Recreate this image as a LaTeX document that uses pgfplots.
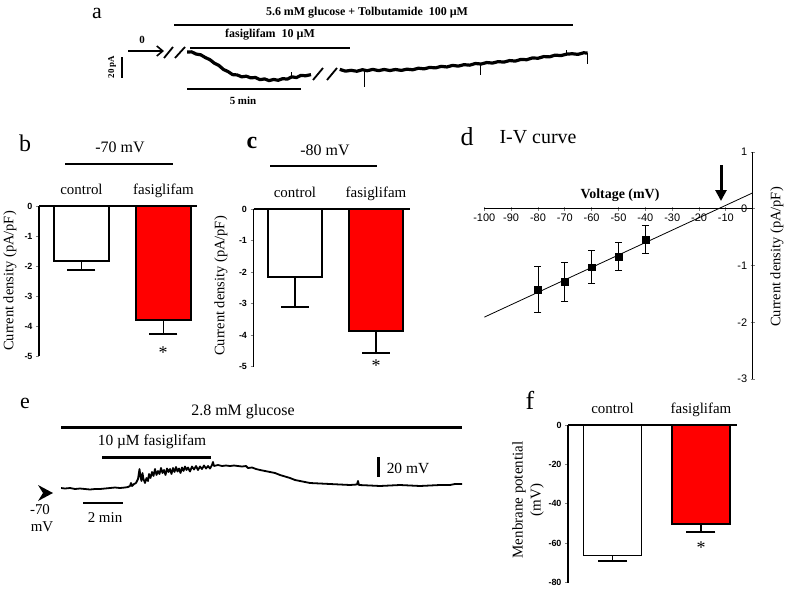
\documentclass[border=0pt]{standalone}
\usepackage{fontspec}
\setmainfont{Liberation Serif}
\setsansfont{Liberation Sans}
\usepackage{pgfplots}
\pgfplotsset{compat=1.18}
\usetikzlibrary{arrows.meta}
\newcommand{\fs}[1]{\fontsize{#1}{#1}\selectfont}

\pgfplotsset{
  barax/.style={
    scale only axis, enlargelimits=false,
    axis x line=top, axis y line=left,
    axis line style={-, line width=1.3bp},
    xtick={1,2}, xticklabels={control,fasiglifam},
    x tick label style={font=\fs{15}, anchor=base, yshift=9bp},
    xtick style={draw=none},
    y tick label style={font=\sffamily\bfseries\fs{9}},
    ytick style={line width=1bp},
    tick align=outside, major tick length=3bp,
    /pgf/number format/assume math mode=true,
  },
  ctrl/.style={ybar, bar shift=0pt, draw=black, line width=1.8bp, fill=white},
  fasi/.style={ybar, bar shift=0pt, draw=black, line width=1.8bp, fill=red},
  errs/.style={error bars/.cd, y dir=minus, y explicit,
    error bar style={line width=1.8bp, black},
    error mark options={rotate=90, mark size=#1, line width=2.2bp, black}},
  trace/.style={scale only axis, hide axis, enlargelimits=false},
}

\begin{document}
\begin{tikzpicture}
\useasboundingbox (0,0) rectangle (787bp,-589bp);

% ---------- a: current trace ----------
\begin{axis}[trace, at={(187bp,-46.8bp)}, anchor=north west,
  width=401bp, height=42bp, xmin=0, xmax=17.59, ymin=-36, ymax=4]
\addplot[black, line width=3.2bp, line join=round] coordinates {
 (0,-1) (0.2,-0.8) (0.4,-2.9) (0.6,-3.6) (0.8,-6.2) (1.0,-8.2) (1.2,-11.6)
 (1.4,-13.8) (1.6,-17.6) (1.8,-19.6) (2.0,-22.5) (2.2,-22.8) (2.4,-24.6)
 (2.6,-24) (2.8,-25.6) (3.0,-25.2) (3.2,-27.3) (3.4,-26.6) (3.6,-28.2)
 (3.8,-27.1) (4.0,-27.9) (4.2,-26.3) (4.4,-26.8) (4.6,-24.6) (4.8,-25.3)
 (5.0,-23.2) (5.2,-23.6) (5.44,-22.5)
};
\addplot[black, line width=3.2bp, line join=round] coordinates {
 (6.70,-17.5) (6.95,-19.2) (7.20,-18.4) (7.45,-19.3) (7.70,-17.8)
 (7.90,-18.8) (8.15,-17.5) (8.40,-18.7) (8.65,-17.6) (8.90,-18.6)
 (9.15,-17.6) (9.40,-18.5) (9.65,-17.3) (9.90,-17.9) (10.15,-16.4)
 (10.40,-17.0) (10.65,-15.6) (10.90,-16.1) (11.15,-14.6) (11.40,-15.2)
 (11.65,-13.7) (11.90,-14.4) (12.15,-13.0) (12.40,-13.5) (12.65,-11.9)
 (12.90,-12.4) (13.15,-11.0) (13.40,-11.5) (13.65,-10.1) (13.90,-10.6)
 (14.15,-9.1) (14.40,-9.6) (14.65,-8.0) (14.90,-8.3) (15.15,-6.6)
 (15.40,-6.9) (15.65,-5.3) (15.90,-5.6) (16.15,-3.9) (16.40,-4.4)
 (16.65,-3.0) (16.90,-2.6) (17.15,-3.2) (17.40,-1.7) (17.57,-2)
};
% short spikes on the trace
\addplot[black, line width=0.8bp] coordinates {(4.6,-25) (4.6,-20)};
\addplot[black, line width=0.8bp] coordinates {(7.8,-18) (7.8,-34)};
\addplot[black, line width=0.8bp] coordinates {(12.85,-12) (12.85,-23)};
\addplot[black, line width=0.8bp] coordinates {(16.65,-3) (16.65,1)};
\addplot[black, line width=0.8bp] coordinates {(17.55,-2) (17.55,-12)};
\end{axis}

% ---------- b ----------
\begin{axis}[barax, at={(39bp,-206bp)}, anchor=north west,
  width=158bp, height=150bp, xmin=0.482, xmax=2.409, ymin=-5, ymax=0,
  ytick={-5,-4,...,0}]
\addplot[ctrl, bar width=55bp, errs=14bp] coordinates {(1,-1.83) -= (0,0.30)};
\addplot[fasi, bar width=55bp, errs=14bp] coordinates {(2,-3.80) -= (0,0.47)};
\end{axis}

% ---------- c ----------
\begin{axis}[barax, at={(253.5bp,-209bp)}, anchor=north west,
  width=156.5bp, height=157.5bp, xmin=0.488, xmax=2.42, ymin=-5, ymax=0,
  ytick={-5,-4,...,0}]
\addplot[ctrl, bar width=54bp, errs=14bp] coordinates {(1,-2.15) -= (0,0.95)};
\addplot[fasi, bar width=54bp, errs=14bp] coordinates {(2,-3.88) -= (0,0.70)};
\end{axis}

% ---------- d: I-V curve ----------
\begin{axis}[scale only axis, enlargelimits=false,
  at={(484.3bp,-152bp)}, anchor=north west, width=268.4bp, height=227bp,
  xmin=-100, xmax=0, ymin=-3, ymax=1,
  axis lines=middle, axis line style={-, line width=0.9bp},
  hide obscured x ticks=true, hide obscured y ticks=false,
  xtick={-100,-90,...,-10}, ytick={-3,-2,-1,0,1},
  tick style={line width=0.8bp}, major tick length=4bp,
  tick label style={font=\sffamily\fs{11}},
  /pgf/number format/assume math mode=true]
\addplot[black, line width=0.8bp] coordinates {(-100,-1.91) (0,0.28)};
\addplot[black, only marks, mark=square*, mark size=3.4bp,
  error bars/.cd, y dir=both, y explicit,
  error bar style={line width=0.9bp},
  error mark options={rotate=90, mark size=3.5bp, line width=0.9bp}]
  coordinates {
  (-80,-1.42) +- (0,0.41)
  (-70,-1.29) +- (0,0.35)
  (-60,-1.03) +- (0,0.29)
  (-50,-0.84) +- (0,0.25)
  (-40,-0.54) +- (0,0.24)
};
\end{axis}

% ---------- e: membrane potential trace ----------
\begin{axis}[trace, at={(61bp,-458bp)}, anchor=north west,
  width=401bp, height=40bp, xmin=0, xmax=20.05, ymin=-80, ymax=-40]
\addplot[black, line width=1.8bp, line join=round] coordinates {
 (0,-70) (0.2,-70.5) (0.45,-70) (0.7,-71) (0.95,-70.5) (1.2,-71) (1.45,-71.5)
 (1.7,-71) (1.95,-71) (2.2,-70.5) (2.45,-70) (2.7,-69.5) (2.95,-70)
 (3.2,-69.5) (3.35,-69) (3.45,-68) (3.5,-65) (3.55,-68) (3.65,-66)
 (3.75,-65) (3.85,-61) (3.925,-51) (3.975,-59) (4.025,-63) (4.075,-55)
 (4.125,-61) (4.2,-65) (4.275,-60) (4.35,-63) (4.4,-56) (4.475,-60)
 (4.55,-54) (4.625,-58) (4.7,-51) (4.775,-57) (4.85,-53) (4.925,-56)
 (5.0,-50) (5.075,-55) (5.15,-52) (5.225,-57) (5.3,-50.5) (5.375,-54)
 (5.45,-51) (5.525,-56) (5.6,-50) (5.675,-54) (5.75,-49) (5.825,-53.5)
 (5.9,-50.5) (5.975,-55) (6.05,-49.5) (6.125,-53) (6.2,-48.5) (6.275,-52)
 (6.35,-49.5) (6.45,-53.5) (6.55,-48.5) (6.65,-51.5) (6.75,-48) (6.85,-52)
 (6.95,-48.5) (7.05,-51) (7.15,-47.5) (7.25,-50.5) (7.35,-48) (7.45,-50.5)
 (7.55,-47) (7.6,-44) (7.65,-48) (7.85,-47) (8.05,-48) (8.25,-47.5)
 (8.45,-48) (8.65,-47.5) (8.85,-48) (9.05,-48.5) (9.25,-48) (9.35,-50)
 (9.55,-49.5) (9.75,-51) (9.95,-52) (10.2,-53) (10.45,-54) (10.7,-55)
 (10.95,-57) (11.2,-58.5) (11.45,-60) (11.7,-62) (11.95,-63) (12.2,-64)
 (12.45,-65) (12.95,-65.5) (13.45,-66) (13.95,-66.5) (14.45,-67)
 (14.8,-66.5) (14.85,-63) (14.9,-67) (15.45,-67.5) (15.95,-68)
 (16.45,-67.5) (16.95,-67) (17.45,-67.5) (17.95,-68) (18.45,-67.5)
 (18.95,-67) (19.45,-67) (19.7,-66) (20.05,-66)
};
\end{axis}

% ---------- f ----------
\begin{axis}[barax, at={(568bp,-425bp)}, anchor=north west,
  width=169bp, height=157.7bp, xmin=0.497, xmax=2.407, ymin=-80, ymax=0,
  ytick={-80,-60,...,0}]
\addplot[ctrl, bar width=58bp, errs=14.5bp] coordinates {(1,-66.2) -= (0,2.8)};
\addplot[fasi, bar width=58bp, errs=14.5bp] coordinates {(2,-50.4) -= (0,3.9)};
\end{axis}

% ---------- annotations ----------
\begin{scope}[x=1bp, y=-1bp, every node/.style={inner sep=0pt}]
% a
\node at (97,13) {\fs{22}a};
\node at (367,13) {\fs{12}\bfseries 5.6 mM glucose + Tolbutamide\ \ 100 µM};
\draw[line width=2bp] (174,25) -- (573,25);
\node at (142,40) {\fs{11}\bfseries 0};
\draw[line width=1.6bp, -{Straight Barb[length=6bp,width=10bp]}] (128,51) -- (164,51);
\draw[line width=1.8bp] (164,58) -- (173,47) (175,58) -- (185,47);
\draw[line width=1.8bp] (313,80) -- (323,68) (327,80) -- (337,68);
\node at (270,35) {\fs{12}\bfseries fasiglifam\ \ 10 µM};
\draw[line width=2bp] (190,48) -- (350,48);
\draw[line width=2.5bp] (122,57) -- (122,78);
\node[rotate=90] at (112,67) {\fs{9}\bfseries 20 pA};
\draw[line width=2bp] (187,89) -- (301,89);
\node at (243,101) {\fs{11}\bfseries 5 min};
% b
\node at (25,143) {\fs{24}b};
\node at (120,147) {\fs{16}-70 mV};
\draw[line width=2bp] (65,164) -- (173,164);
\node[rotate=90] at (10,281) {\fs{14.5}Current density (pA/pF)};
\node at (163,353) {\fs{18}*};
% c
\node at (252,143) {\fs{24}\bfseries c};
\node at (325,150) {\fs{16}-80 mV};
\draw[line width=2bp] (270,166) -- (377,166);
\node[rotate=90] at (221,286) {\fs{14.5}Current density (pA/pF)};
\node at (376,366) {\fs{18}*};
% d
\node at (467,137) {\fs{26}d};
\node at (538,137) {\fs{20}I-V curve};
\node at (620,195) {\fs{14}\bfseries Voltage (mV)};
\draw[line width=3bp, -{Triangle[length=11bp,width=11bp]}] (721,165) -- (721,201);
\node[rotate=90] at (777,257) {\fs{14.5}Current density (pA/pF)};
% e
\node at (25,403) {\fs{22}e};
\node at (243,412) {\fs{16}2.8 mM glucose};
\draw[line width=3bp] (61,427) -- (462,427);
\node at (152,442) {\fs{15.5}10 µM fasiglifam};
\draw[line width=3bp] (102,457) -- (211,457);
\draw[line width=3bp] (378,457) -- (378,477);
\node at (408,468) {\fs{15.5}20 mV};
\fill (38,485) -- (53,493) -- (38,501) -- (43,493) -- cycle;
\node at (40,510) {\fs{15}-70};
\node at (42,527) {\fs{15}mV};
\draw[line width=2.5bp] (83,503) -- (123,503);
\node at (105,518) {\fs{15}2 min};
% f
\node at (530,400) {\fs{26}f};
\node[rotate=90] at (519,500) {\fs{15}Menbrane potential};
\node[rotate=90] at (537,500) {\fs{15}(mV)};
\node at (701,548) {\fs{18}*};
\end{scope}
\end{tikzpicture}
\end{document}
